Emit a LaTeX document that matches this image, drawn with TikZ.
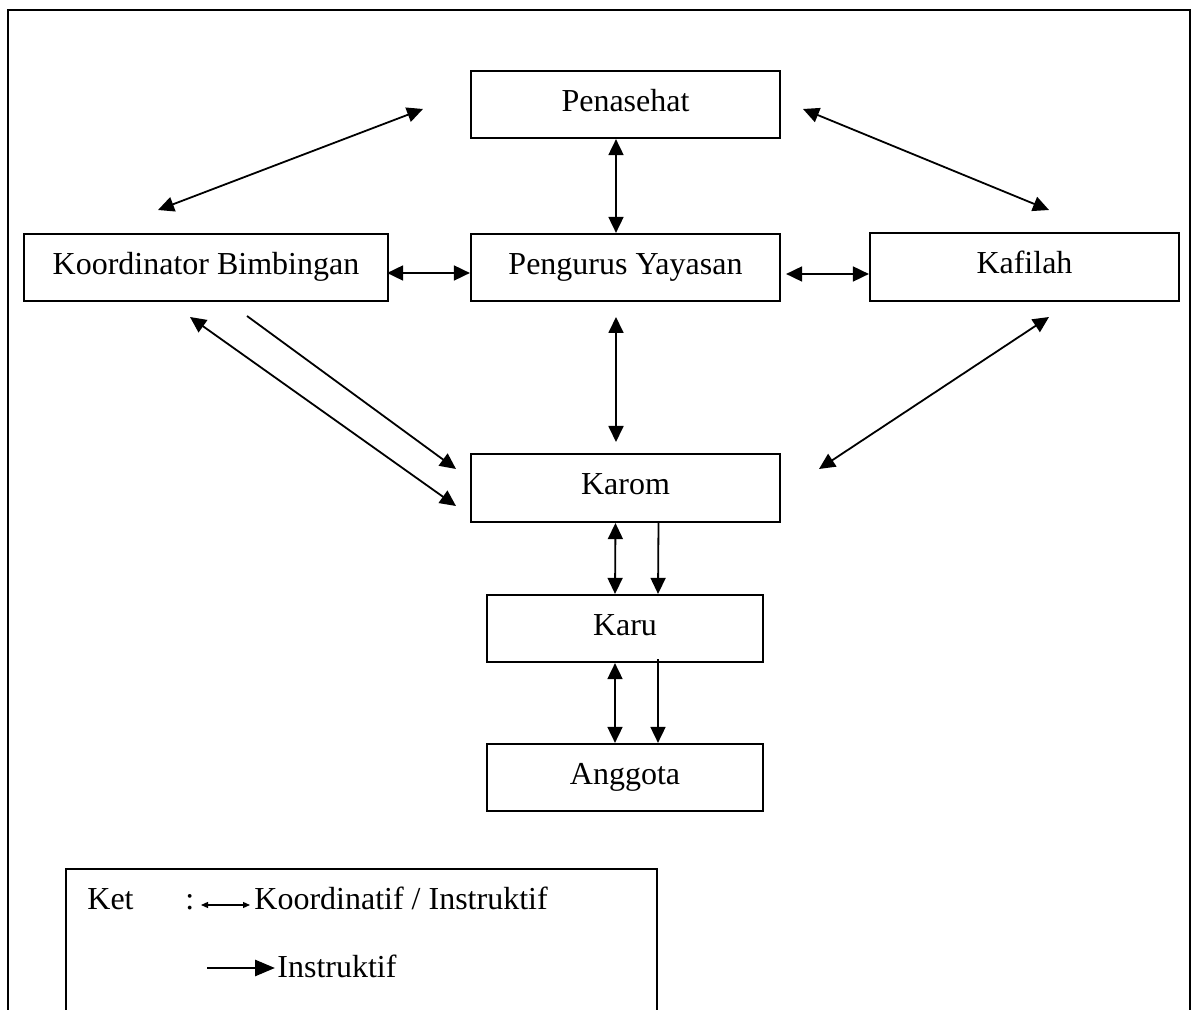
\documentclass[tikz,border=0pt]{standalone}
\usepackage{fontspec}
\setmainfont{Liberation Serif}
\usetikzlibrary{arrows.meta}
\tikzset{
  orgbox/.style={draw, line width=1.1pt, inner sep=0pt, minimum height=33.5pt,
    text height=10pt, text depth=3pt, font=\fontsize{16}{19}\selectfont},
  dbl/.style={line width=0.9pt, {Triangle[length=8pt,width=7.5pt]}-{Triangle[length=8pt,width=7.5pt]}},
  sgl/.style={line width=0.9pt, -{Triangle[length=8pt,width=7.5pt]}},
  legtext/.style={anchor=base west, inner sep=0pt, font=\fontsize{16}{19}\selectfont},
  frameline/.style={line width=1pt}
}
\begin{document}
\begin{tikzpicture}[x=0.5pt,y=-0.5pt]
\useasboundingbox (0,0) rectangle (1196,1010);
% outer frame (open at bottom)
\draw[frameline] (8,1010) -- (8,10) -- (1190,10) -- (1190,1010);
\draw[line width=1.4pt] (8,10) -- (1190,10);

% boxes
\node[orgbox, minimum width=154.5pt] (pen) at (625.5,104.5) {Penasehat};
\node[orgbox, minimum width=154.5pt] (peng) at (625.5,267.5) {Pengurus Yayasan};
\node[orgbox, minimum width=182pt] (koord) at (206,267.5) {Koordinator Bimbingan};
\node[orgbox, minimum width=154.5pt, minimum height=34pt] (kaf) at (1024.5,267) {Kafilah};
\node[orgbox, minimum width=154.5pt, minimum height=34pt] (karom) at (625.5,488) {Karom};
\node[orgbox, minimum width=138pt] (karu) at (625,628.5) {Karu};
\node[orgbox, minimum width=138pt] (angg) at (625,777.5) {Anggota};

% free ends of the diagonal connectors
\coordinate (pkA) at (158,210);
\coordinate (pkB) at (423,109);
\coordinate (pfA) at (803,109);
\coordinate (pfB) at (1049,210);
\coordinate (fkA) at (1049,317);
\coordinate (fkB) at (819,469);
\coordinate (gkA) at (616,317);
\coordinate (gkB) at (616,442);
\coordinate (kdA) at (190,317);
\coordinate (kdB) at (456,506);
\coordinate (ksA) at (247,316);
\coordinate (ksB) at (456,469);

% connectors
\draw[dbl] (pkA) -- (pkB);
\draw[dbl] (pfA) -- (pfB);
\draw[dbl] (fkA) -- (fkB);
\draw[dbl] (gkA) -- (gkB);
\draw[dbl] (kdA) -- (kdB);
\draw[sgl] (ksA) -- (ksB);
\draw[dbl] ([xshift=-4.75pt]pen.south) -- ([xshift=-4.75pt]peng.north);
\draw[dbl] ([xshift=-1pt,yshift=-2.75pt]koord.east) -- ([yshift=-2.75pt]peng.west);
\draw[dbl] ([xshift=2.5pt,yshift=-3.25pt]peng.east) -- ([yshift=-3.5pt]kaf.west);
\draw[dbl] ([xshift=-5pt]karom.south) -- ([xshift=-5pt]karu.north);
\draw[sgl] ([xshift=16.5pt]karom.south) -- ([xshift=16.5pt]karu.north);
\draw[dbl] ([xshift=-5pt]karu.south) -- ([xshift=-5pt]angg.north);
\draw[sgl] ([xshift=16.5pt,yshift=2pt]karu.south) -- ([xshift=16.5pt]angg.north);

% legend box (open at bottom)
\draw[frameline] (66,1010) -- (66,869) -- (657,869) -- (657,1010);
\node[legtext] (ket) at (87,910) {Ket};
\node[legtext] (colon) at (185,910) {:};
\node[legtext] (lk) at (254,910) {Koordinatif / Instruktif};
\node[legtext] (li) at (277,978) {Instruktif};
\coordinate (la1) at (201,905);
\coordinate (la2) at (250,905);
\draw[line width=0.6pt, {Triangle[length=3.5pt,width=3pt]}-{Triangle[length=3.5pt,width=3pt]}] (la1) -- (la2);
\coordinate (lb1) at (207,968);
\coordinate (lb2) at (275,968);
\draw[line width=1.4pt, -{Triangle[length=10pt,width=8pt]}] (lb1) -- (lb2);
\end{tikzpicture}
\end{document}
